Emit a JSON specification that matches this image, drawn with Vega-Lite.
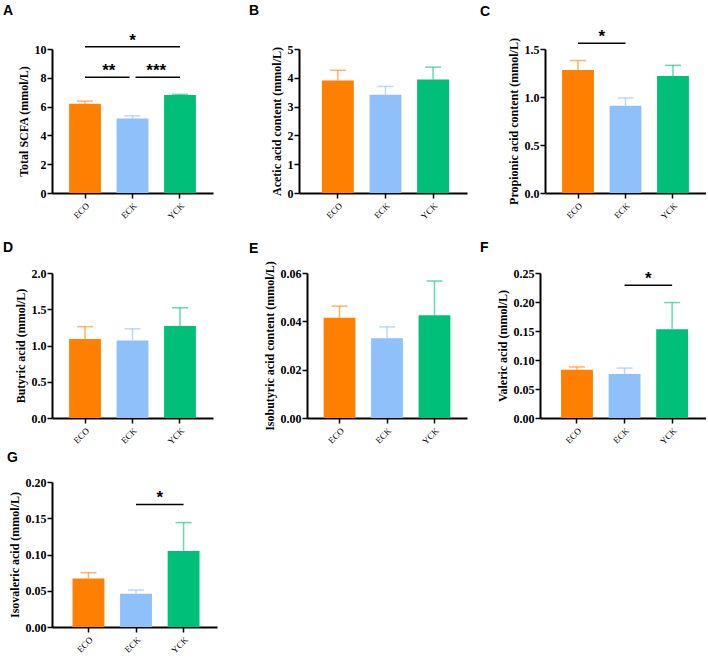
{
  "$schema": "https://vega.github.io/schema/vega-lite/v6.json",
  "padding": {"left": 3, "top": 3, "right": 0, "bottom": 0},
  "background": "white",
  "datasets": {
    "A": [{"group": "ECO", "mean": 6.2, "upper": 6.38}, {"group": "ECK", "mean": 5.17, "upper": 5.36}, {"group": "YCK", "mean": 6.8, "upper": 6.85}],
    "B": [{"group": "ECO", "mean": 3.91, "upper": 4.26}, {"group": "ECK", "mean": 3.41, "upper": 3.7}, {"group": "YCK", "mean": 3.94, "upper": 4.37}],
    "C": [{"group": "ECO", "mean": 1.28, "upper": 1.38}, {"group": "ECK", "mean": 0.91, "upper": 0.99}, {"group": "YCK", "mean": 1.22, "upper": 1.33}],
    "D": [{"group": "ECO", "mean": 1.09, "upper": 1.26}, {"group": "ECK", "mean": 1.07, "upper": 1.23}, {"group": "YCK", "mean": 1.27, "upper": 1.52}],
    "E": [{"group": "ECO", "mean": 0.0415, "upper": 0.0463}, {"group": "ECK", "mean": 0.033, "upper": 0.0377}, {"group": "YCK", "mean": 0.0425, "upper": 0.0567}],
    "F": [{"group": "ECO", "mean": 0.083, "upper": 0.088}, {"group": "ECK", "mean": 0.076, "upper": 0.086}, {"group": "YCK", "mean": 0.153, "upper": 0.199}],
    "G": [{"group": "ECO", "mean": 0.067, "upper": 0.075}, {"group": "ECK", "mean": 0.046, "upper": 0.051}, {"group": "YCK", "mean": 0.105, "upper": 0.144}],
    "A_sig": [{"g1": "ECO", "g2": "YCK", "y": 10.15, "label": "*", "kind": "wide"}, {"g1": "ECO", "g2": "ECK", "y": 8.03, "label": "**", "kind": "left"}, {"g1": "ECK", "g2": "YCK", "y": 8.03, "label": "***", "kind": "right"}],
    "C_sig": [{"g1": "ECO", "g2": "ECK", "y": 1.56, "label": "*", "kind": "pair"}],
    "F_sig": [{"g1": "ECK", "g2": "YCK", "y": 0.229, "label": "*", "kind": "pair"}],
    "G_sig": [{"g1": "ECK", "g2": "YCK", "y": 0.169, "label": "*", "kind": "pair"}]
  },
  "spacing": 20,
  "vconcat": [
    {
      "spacing": 36,
      "hconcat": [
        {
          "width": 161, "height": 144,
          "title": {"text": "A", "dx": -49, "offset": 14},
          "layer": [
            {"data": {"name": "A"}, "mark": {"type": "bar"},
             "encoding": {
               "x": {"field": "group", "type": "nominal", "scale": {"domain": ["ECO", "ECK", "YCK"], "paddingInner": 0.33, "paddingOuter": 0.36}, "axis": {"title": null}},
               "y": {"field": "mean", "type": "quantitative", "scale": {"domain": [0, 10], "nice": false}, "axis": {"title": "Total SCFA (mmol/L)", "values": [0, 2, 4, 6, 8, 10], "labelOverlap": false, "tickCount": 6}},
               "color": {"field": "group", "type": "nominal", "scale": {"domain": ["ECO", "ECK", "YCK"], "range": ["#FF8000", "#8FC0FA", "#00BF78"]}, "legend": null}}},
            {"data": {"name": "A"}, "mark": {"type": "rule", "strokeWidth": 1.5, "opacity": 0.6},
             "encoding": {"x": {"field": "group", "type": "nominal"}, "y": {"field": "mean", "type": "quantitative"}, "y2": {"field": "upper"}, "color": {"field": "group", "type": "nominal", "legend": null}}},
            {"data": {"name": "A"}, "mark": {"type": "tick", "thickness": 1.5, "size": 16, "opacity": 0.6, "orient": "horizontal"},
             "encoding": {"x": {"field": "group", "type": "nominal"}, "y": {"field": "upper", "type": "quantitative"}, "color": {"field": "group", "type": "nominal", "legend": null}}},
            {"data": {"name": "A_sig"}, "transform": [{"filter": "datum.kind == 'wide'"}], "mark": {"type": "rule", "strokeWidth": 1.5, "color": "black"},
             "encoding": {"x": {"field": "g1", "type": "nominal"}, "x2": {"field": "g2"}, "y": {"field": "y", "type": "quantitative"}}},
            {"data": {"name": "A_sig"}, "transform": [{"filter": "datum.kind == 'left'"}], "mark": {"type": "rule", "strokeWidth": 1.5, "color": "black", "x2Offset": -3},
             "encoding": {"x": {"field": "g1", "type": "nominal"}, "x2": {"field": "g2"}, "y": {"field": "y", "type": "quantitative"}}},
            {"data": {"name": "A_sig"}, "transform": [{"filter": "datum.kind == 'right'"}], "mark": {"type": "rule", "strokeWidth": 1.5, "color": "black", "xOffset": 3},
             "encoding": {"x": {"field": "g1", "type": "nominal"}, "x2": {"field": "g2"}, "y": {"field": "y", "type": "quantitative"}}},
            {"data": {"name": "A_sig"}, "transform": [{"filter": "datum.kind == 'wide'"}], "mark": {"type": "text", "dx": 47.5, "dy": -1, "baseline": "alphabetic", "font": "Liberation Sans", "fontWeight": "bold", "fontSize": 17, "color": "black"},
             "encoding": {"x": {"field": "g1", "type": "nominal"}, "y": {"field": "y", "type": "quantitative"}, "text": {"field": "label"}}},
            {"data": {"name": "A_sig"}, "transform": [{"filter": "datum.kind != 'wide'"}], "mark": {"type": "text", "dx": 23.75, "dy": -1, "baseline": "alphabetic", "font": "Liberation Sans", "fontWeight": "bold", "fontSize": 17, "color": "black"},
             "encoding": {"x": {"field": "g1", "type": "nominal"}, "y": {"field": "y", "type": "quantitative"}, "text": {"field": "label"}}}
          ]
        },
        {
          "spacing": 13,
          "hconcat": [
            {
              "width": 168, "height": 144,
              "title": {"text": "B", "dx": -50, "offset": 25},
              "layer": [
                {"data": {"name": "B"}, "mark": {"type": "bar"},
                 "encoding": {
                   "x": {"field": "group", "type": "nominal", "scale": {"domain": ["ECO", "ECK", "YCK"], "paddingInner": 0.33, "paddingOuter": 0.43, "align": 0.56}, "axis": {"title": null}},
                   "y": {"field": "mean", "type": "quantitative", "scale": {"domain": [0, 5], "nice": false}, "axis": {"title": "Acetic acid content (mmol/L)", "values": [0, 1, 2, 3, 4, 5], "labelOverlap": false, "tickCount": 6}},
                   "color": {"field": "group", "type": "nominal", "scale": {"domain": ["ECO", "ECK", "YCK"], "range": ["#FF8000", "#8FC0FA", "#00BF78"]}, "legend": null}}},
                {"data": {"name": "B"}, "mark": {"type": "rule", "strokeWidth": 1.5, "opacity": 0.6},
                 "encoding": {"x": {"field": "group", "type": "nominal"}, "y": {"field": "mean", "type": "quantitative"}, "y2": {"field": "upper"}, "color": {"field": "group", "type": "nominal", "legend": null}}},
                {"data": {"name": "B"}, "mark": {"type": "tick", "thickness": 1.5, "size": 16, "opacity": 0.6, "orient": "horizontal"},
                 "encoding": {"x": {"field": "group", "type": "nominal"}, "y": {"field": "upper", "type": "quantitative"}, "color": {"field": "group", "type": "nominal", "legend": null}}}
              ]
            },
            {
              "width": 161, "height": 144,
              "title": {"text": "C", "dx": -65, "offset": 9},
              "layer": [
                {"data": {"name": "C"}, "mark": {"type": "bar"},
                 "encoding": {
                   "x": {"field": "group", "type": "nominal", "scale": {"domain": ["ECO", "ECK", "YCK"], "paddingInner": 0.33, "paddingOuter": 0.36}, "axis": {"title": null}},
                   "y": {"field": "mean", "type": "quantitative", "scale": {"domain": [0, 1.5], "nice": false}, "axis": {"title": "Propionic acid content (mmol/L)", "values": [0, 0.5, 1, 1.5], "format": ".1f", "labelOverlap": false}},
                   "color": {"field": "group", "type": "nominal", "scale": {"domain": ["ECO", "ECK", "YCK"], "range": ["#FF8000", "#8FC0FA", "#00BF78"]}, "legend": null}}},
                {"data": {"name": "C"}, "mark": {"type": "rule", "strokeWidth": 1.5, "opacity": 0.6},
                 "encoding": {"x": {"field": "group", "type": "nominal"}, "y": {"field": "mean", "type": "quantitative"}, "y2": {"field": "upper"}, "color": {"field": "group", "type": "nominal", "legend": null}}},
                {"data": {"name": "C"}, "mark": {"type": "tick", "thickness": 1.5, "size": 16, "opacity": 0.6, "orient": "horizontal"},
                 "encoding": {"x": {"field": "group", "type": "nominal"}, "y": {"field": "upper", "type": "quantitative"}, "color": {"field": "group", "type": "nominal", "legend": null}}},
                {"data": {"name": "C_sig"}, "mark": {"type": "rule", "strokeWidth": 1.5, "color": "black"},
                 "encoding": {"x": {"field": "g1", "type": "nominal"}, "x2": {"field": "g2"}, "y": {"field": "y", "type": "quantitative"}}},
                {"data": {"name": "C_sig"}, "mark": {"type": "text", "dx": 23.75, "dy": -1, "baseline": "alphabetic", "font": "Liberation Sans", "fontWeight": "bold", "fontSize": 17, "color": "black"},
                 "encoding": {"x": {"field": "g1", "type": "nominal"}, "y": {"field": "y", "type": "quantitative"}, "text": {"field": "label"}}}
              ]
            }
          ]
        }
      ]
    },
    {
      "spacing": 5,
      "vconcat": [
        {
          "spacing": 36,
          "hconcat": [
            {
              "width": 161, "height": 145,
              "title": {"text": "D", "dx": -49, "offset": 12},
              "layer": [
                {"data": {"name": "D"}, "mark": {"type": "bar"},
                 "encoding": {
                   "x": {"field": "group", "type": "nominal", "scale": {"domain": ["ECO", "ECK", "YCK"], "paddingInner": 0.33, "paddingOuter": 0.36}, "axis": {"title": null}},
                   "y": {"field": "mean", "type": "quantitative", "scale": {"domain": [0, 2], "nice": false}, "axis": {"title": "Butyric acid (mmol/L)", "values": [0, 0.5, 1, 1.5, 2], "format": ".1f", "labelOverlap": false, "tickCount": 5}},
                   "color": {"field": "group", "type": "nominal", "scale": {"domain": ["ECO", "ECK", "YCK"], "range": ["#FF8000", "#8FC0FA", "#00BF78"]}, "legend": null}}},
                {"data": {"name": "D"}, "mark": {"type": "rule", "strokeWidth": 1.5, "opacity": 0.6},
                 "encoding": {"x": {"field": "group", "type": "nominal"}, "y": {"field": "mean", "type": "quantitative"}, "y2": {"field": "upper"}, "color": {"field": "group", "type": "nominal", "legend": null}}},
                {"data": {"name": "D"}, "mark": {"type": "tick", "thickness": 1.5, "size": 16, "opacity": 0.6, "orient": "horizontal"},
                 "encoding": {"x": {"field": "group", "type": "nominal"}, "y": {"field": "upper", "type": "quantitative"}, "color": {"field": "group", "type": "nominal", "legend": null}}}
              ]
            },
            {
              "spacing": 13,
              "hconcat": [
                {
                  "width": 160, "height": 145,
                  "title": {"text": "E", "dx": -58, "offset": 5},
                  "layer": [
                    {"data": {"name": "E"}, "mark": {"type": "bar"},
                     "encoding": {
                       "x": {"field": "group", "type": "nominal", "scale": {"domain": ["ECO", "ECK", "YCK"], "paddingInner": 0.33, "paddingOuter": 0.35}, "axis": {"title": null}},
                       "y": {"field": "mean", "type": "quantitative", "scale": {"domain": [0, 0.06], "nice": false}, "axis": {"title": "Isobutyric acid content (mmol/L)", "values": [0, 0.02, 0.04, 0.06], "format": ".2f", "labelOverlap": false}},
                       "color": {"field": "group", "type": "nominal", "scale": {"domain": ["ECO", "ECK", "YCK"], "range": ["#FF8000", "#8FC0FA", "#00BF78"]}, "legend": null}}},
                    {"data": {"name": "E"}, "mark": {"type": "rule", "strokeWidth": 1.5, "opacity": 0.6},
                     "encoding": {"x": {"field": "group", "type": "nominal"}, "y": {"field": "mean", "type": "quantitative"}, "y2": {"field": "upper"}, "color": {"field": "group", "type": "nominal", "legend": null}}},
                    {"data": {"name": "E"}, "mark": {"type": "tick", "thickness": 1.5, "size": 16, "opacity": 0.6, "orient": "horizontal"},
                     "encoding": {"x": {"field": "group", "type": "nominal"}, "y": {"field": "upper", "type": "quantitative"}, "color": {"field": "group", "type": "nominal", "legend": null}}}
                  ]
                },
                {
                  "width": 166, "height": 145,
                  "title": {"text": "F", "dx": -60, "offset": 12},
                  "layer": [
                    {"data": {"name": "F"}, "mark": {"type": "bar"},
                     "encoding": {
                       "x": {"field": "group", "type": "nominal", "scale": {"domain": ["ECO", "ECK", "YCK"], "paddingInner": 0.33, "paddingOuter": 0.41, "align": 0.54}, "axis": {"title": null}},
                       "y": {"field": "mean", "type": "quantitative", "scale": {"domain": [0, 0.25], "nice": false}, "axis": {"title": "Valeric acid (mmol/L)", "values": [0, 0.05, 0.1, 0.15, 0.2, 0.25], "format": ".2f", "labelOverlap": false, "tickCount": 6}},
                       "color": {"field": "group", "type": "nominal", "scale": {"domain": ["ECO", "ECK", "YCK"], "range": ["#FF8000", "#8FC0FA", "#00BF78"]}, "legend": null}}},
                    {"data": {"name": "F"}, "mark": {"type": "rule", "strokeWidth": 1.5, "opacity": 0.6},
                     "encoding": {"x": {"field": "group", "type": "nominal"}, "y": {"field": "mean", "type": "quantitative"}, "y2": {"field": "upper"}, "color": {"field": "group", "type": "nominal", "legend": null}}},
                    {"data": {"name": "F"}, "mark": {"type": "tick", "thickness": 1.5, "size": 16, "opacity": 0.6, "orient": "horizontal"},
                     "encoding": {"x": {"field": "group", "type": "nominal"}, "y": {"field": "upper", "type": "quantitative"}, "color": {"field": "group", "type": "nominal", "legend": null}}},
                    {"data": {"name": "F_sig"}, "mark": {"type": "rule", "strokeWidth": 1.5, "color": "black"},
                     "encoding": {"x": {"field": "g1", "type": "nominal"}, "x2": {"field": "g2"}, "y": {"field": "y", "type": "quantitative"}}},
                    {"data": {"name": "F_sig"}, "mark": {"type": "text", "dx": 23.75, "dy": -1, "baseline": "alphabetic", "font": "Liberation Sans", "fontWeight": "bold", "fontSize": 17, "color": "black"},
                     "encoding": {"x": {"field": "g1", "type": "nominal"}, "y": {"field": "y", "type": "quantitative"}, "text": {"field": "label"}}}
                  ]
                }
              ]
            }
          ]
        },
        {
          "width": 165, "height": 145,
          "title": {"text": "G", "dx": -45, "offset": 11},
          "layer": [
            {"data": {"name": "G"}, "mark": {"type": "bar"},
             "encoding": {
               "x": {"field": "group", "type": "nominal", "scale": {"domain": ["ECO", "ECK", "YCK"], "paddingInner": 0.33, "paddingOuter": 0.4, "align": 0.54}, "axis": {"title": null}},
               "y": {"field": "mean", "type": "quantitative", "scale": {"domain": [0, 0.2], "nice": false}, "axis": {"title": "Isovaleric acid (mmol/L)", "values": [0, 0.05, 0.1, 0.15, 0.2], "format": ".2f", "labelOverlap": false, "tickCount": 5}},
               "color": {"field": "group", "type": "nominal", "scale": {"domain": ["ECO", "ECK", "YCK"], "range": ["#FF8000", "#8FC0FA", "#00BF78"]}, "legend": null}}},
            {"data": {"name": "G"}, "mark": {"type": "rule", "strokeWidth": 1.5, "opacity": 0.6},
             "encoding": {"x": {"field": "group", "type": "nominal"}, "y": {"field": "mean", "type": "quantitative"}, "y2": {"field": "upper"}, "color": {"field": "group", "type": "nominal", "legend": null}}},
            {"data": {"name": "G"}, "mark": {"type": "tick", "thickness": 1.5, "size": 16, "opacity": 0.6, "orient": "horizontal"},
             "encoding": {"x": {"field": "group", "type": "nominal"}, "y": {"field": "upper", "type": "quantitative"}, "color": {"field": "group", "type": "nominal", "legend": null}}},
            {"data": {"name": "G_sig"}, "mark": {"type": "rule", "strokeWidth": 1.5, "color": "black"},
             "encoding": {"x": {"field": "g1", "type": "nominal"}, "x2": {"field": "g2"}, "y": {"field": "y", "type": "quantitative"}}},
            {"data": {"name": "G_sig"}, "mark": {"type": "text", "dx": 23.75, "dy": -1, "baseline": "alphabetic", "font": "Liberation Sans", "fontWeight": "bold", "fontSize": 17, "color": "black"},
             "encoding": {"x": {"field": "g1", "type": "nominal"}, "y": {"field": "y", "type": "quantitative"}, "text": {"field": "label"}}}
          ]
        }
      ]
    }
  ],
  "config": {
    "font": "Liberation Serif",
    "view": {"stroke": null},
    "axis": {"domainColor": "#000000", "domainWidth": 2, "tickColor": "#000000", "tickWidth": 1.5, "tickSize": 5, "labelColor": "#000000", "labelFont": "Liberation Serif", "labelFontWeight": "bold", "labelFontSize": 12, "titleColor": "#000000", "titleFont": "Liberation Serif", "titleFontWeight": "bold", "titleFontSize": 12, "grid": false, "labelOverlap": false},
    "axisX": {"labelAngle": -45, "labelFontWeight": "normal", "labelFontSize": 9, "labelPadding": 3},
    "axisY": {"labelPadding": 1, "titlePadding": 4, "labelOverlap": false},
    "title": {"font": "Liberation Sans", "fontWeight": "bold", "fontSize": 14, "anchor": "start", "frame": "group", "color": "#000000"}
  }
}
